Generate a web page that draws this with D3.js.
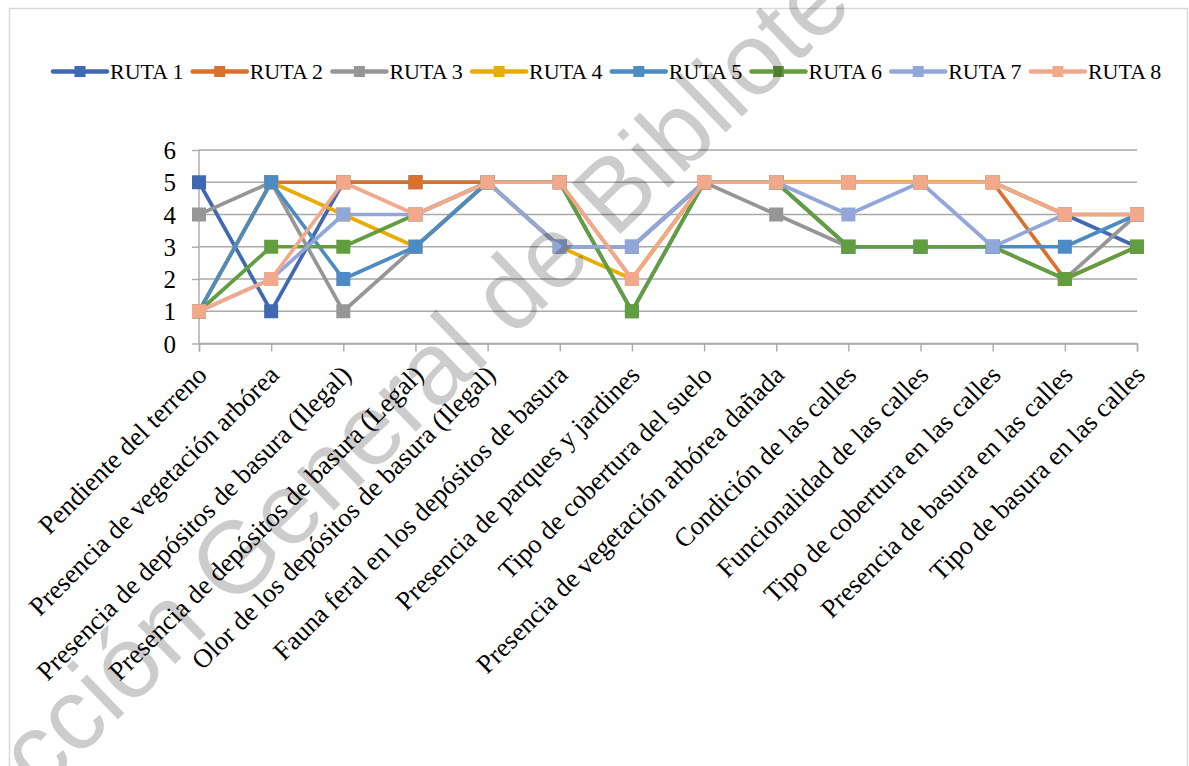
<!DOCTYPE html>
<html><head><meta charset="utf-8">
<script src="https://cdn.jsdelivr.net/npm/d3@7/dist/d3.min.js"></script>
<style>
html,body{margin:0;padding:0;background:#fff;}
svg{display:block;}
</style>
</head><body>
<svg id="c" width="1189" height="766"></svg>
<script>
const categories = [
  "Pendiente del terreno",
  "Presencia de vegetación arbórea",
  "Presencia de depósitos de basura (Ilegal)",
  "Presencia de depósitos de basura (Legal)",
  "Olor de los depósitos de basura (Ilegal)",
  "Fauna feral en los depósitos de basura",
  "Presencia de parques y jardines",
  "Tipo de cobertura del suelo",
  "Presencia de vegetación arbórea dañada",
  "Condición de las calles",
  "Funcionalidad de las calles",
  "Tipo de cobertura en las calles",
  "Presencia de basura en las calles",
  "Tipo de basura en las calles"
];
const seriesNames = ["RUTA 1","RUTA 2","RUTA 3","RUTA 4","RUTA 5","RUTA 6","RUTA 7","RUTA 8"];
const ruta1 = [5,1,5,5,5,3,3,5,5,5,5,5,4,3];
const ruta2 = [1,5,5,5,5,5,2,5,5,5,5,5,2,3];
const ruta3 = [4,5,1,3,5,3,3,5,4,3,3,3,2,4];
const ruta4 = [1,5,4,3,5,3,2,5,5,5,5,5,4,4];
const ruta5 = [1,5,2,3,5,5,1,5,5,3,3,3,3,4];
const ruta6 = [1,3,3,4,5,5,1,5,5,3,3,3,2,3];
const ruta7 = [1,2,4,4,5,3,3,5,5,4,5,3,4,4];
const ruta8 = [1,2,5,4,5,5,2,5,5,5,5,5,4,4];
const yTicks = [0,1,2,3,4,5,6];
const colors = ["#4169b3","#d9702c","#969696","#e8ad00","#4c8bc3","#629d3f","#91a7d9","#f2a98b"];
const watermarkText = "Dirección General de Bibliotecas";

const series = [ruta1,ruta2,ruta3,ruta4,ruta5,ruta6,ruta7,ruta8].map((v,i)=>({name:seriesNames[i], values:v, color:colors[i]}));

const svg = d3.select("#c");
svg.append("rect").attr("x",9.5).attr("y",8.5).attr("width",1178).attr("height",770)
  .attr("fill","#fff").attr("stroke","#d9d9d9").attr("stroke-width",1.5);

const x = d3.scalePoint().domain(d3.range(categories.length)).range([199,1137]);
const y = d3.scaleLinear().domain([0,6]).range([343.5,150]);
const gridColor = "#a9a9a9";
const serif = "'Liberation Serif','Times New Roman',serif";

const gy = svg.append("g").attr("transform","translate(199,0)")
  .call(d3.axisLeft(y).tickValues(yTicks).tickSize(7).tickFormat(d3.format("d")).tickPadding(16));
gy.select(".domain").remove();
gy.selectAll(".tick line").attr("stroke",gridColor).attr("stroke-width",1.4);
gy.selectAll(".tick text").attr("font-family",serif).attr("font-size",25).attr("fill","#000").attr("dy","0.34em");
svg.append("g").selectAll("line").data(yTicks).join("line")
  .attr("x1",199).attr("x2",1137).attr("y1",d=>y(d)).attr("y2",d=>y(d))
  .attr("stroke",gridColor).attr("stroke-width",1.4);
svg.append("line").attr("x1",199).attr("x2",199).attr("y1",y(6)).attr("y2",y(0))
  .attr("stroke",gridColor).attr("stroke-width",1.4);

const gx = svg.append("g").attr("transform",`translate(0,${y(0)})`)
  .call(d3.axisBottom(x).tickSize(8).tickFormat(i=>categories[i]));
gx.select(".domain").attr("stroke",gridColor).attr("stroke-width",1.4);
gx.selectAll(".tick line").attr("stroke",gridColor).attr("stroke-width",1.4);
gx.selectAll(".tick text")
  .attr("font-family",serif).attr("font-size",26.5).attr("fill","#000")
  .attr("text-anchor","end").attr("dy",null).attr("y",null)
  .attr("transform","translate(9,33) rotate(-45)");

const line = d3.line().x((d,i)=>x(i)).y(d=>y(d));
const ms = 14;
series.forEach(s=>{
  const g = svg.append("g");
  g.append("path").datum(s.values).attr("d",line).attr("fill","none")
    .attr("stroke",s.color).attr("stroke-width",3.7).attr("stroke-linejoin","round");
  g.selectAll("rect").data(s.values).join("rect")
    .attr("x",(d,i)=>x(i)-ms/2).attr("y",d=>y(d)-ms/2).attr("width",ms).attr("height",ms)
    .attr("fill",s.color);
});

const lg = svg.append("g");
series.forEach((s,i)=>{
  const x0 = 53 + i*139.7, ly = 71.5;
  lg.append("line").attr("x1",x0).attr("x2",x0+54).attr("y1",ly).attr("y2",ly)
    .attr("stroke",s.color).attr("stroke-width",4.5).attr("stroke-linecap","round");
  lg.append("rect").attr("x",x0+27-5.5).attr("y",ly-5.5).attr("width",11).attr("height",11).attr("fill",s.color);
  lg.append("text").attr("x",x0+57).attr("y",ly).attr("dy","0.35em")
    .attr("font-family",serif).attr("font-size",22).attr("fill","#000")
    .text(s.name);
});

svg.append("text").attr("x",0).attr("y",0)
  .attr("transform","translate(-95,925) rotate(-44)")
  .attr("font-family","'Liberation Sans',Arial,sans-serif").attr("font-size",102)
  .attr("fill","#000").attr("fill-opacity",0.2)
  .text(watermarkText);
</script>
</body></html>
